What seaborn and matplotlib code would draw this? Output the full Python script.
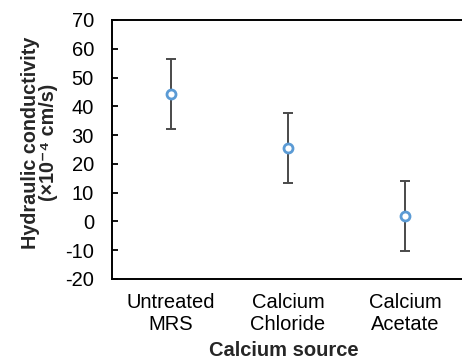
import matplotlib
matplotlib.use("Agg")
import matplotlib.pyplot as plt
import seaborn as sns
import pandas as pd
import numpy as np

categories = ["Untreated\nMRS", "Calcium\nChloride", "Calcium\nAcetate"]
means = [44.3, 25.4, 2.0]
errors = [12.1, 12.2, 12.2]
yticks = [-20, -10, 0, 10, 20, 30, 40, 50, 60, 70]

sns.set_theme(style="white")
plt.rcParams["font.family"] = ["Liberation Sans", "DejaVu Sans"]

df = pd.DataFrame({"pos": np.arange(len(categories)), "mean": means, "err": errors})

fig = plt.figure(figsize=(4.62, 3.61), dpi=100)
ax = fig.add_axes([112 / 462, 1 - 279 / 361, 352 / 462, 259 / 361])

ax.errorbar(df["pos"], df["mean"], yerr=df["err"], fmt="none",
            ecolor="#4a4a4a", elinewidth=1.4, capsize=3.4, capthick=1.4, zorder=2)
sns.scatterplot(data=df, x="pos", y="mean", ax=ax, marker="o", s=42,
                facecolor="white", edgecolor="#5B9BD5", linewidth=2.0, zorder=3)

ax.set_xlim(-0.5, 2.5)
ax.set_ylim(-20, 70)
ax.set_yticks(yticks)
ax.set_yticklabels([str(v) for v in yticks], fontsize=14.5, color="black")
ax.set_xticks(range(len(categories)))
ax.set_xticklabels(categories, fontsize=14.5, color="black", linespacing=1.2)
ax.tick_params(axis="x", which="major", length=0, pad=10)
ax.set_xticks([0.5, 1.5], minor=True)
ax.tick_params(axis="x", which="minor", direction="in", length=4.5, width=1.3, color="black")
ax.tick_params(axis="y", direction="in", length=4.5, width=1.3, color="black", pad=13, left=True)

for side in ["left", "bottom", "top"]:
    ax.spines[side].set_visible(True)
    ax.spines[side].set_color("black")
    ax.spines[side].set_linewidth(1.4)
ax.spines["right"].set_visible(False)

ax.set_xlabel("Calcium source", fontsize=14.5, fontweight="bold")
ax.xaxis.set_label_coords(0.489, -0.238)
ax.set_ylabel("Hydraulic conductivity\n(×10⁻⁴ cm/s)", fontsize=14.2,
              fontweight="bold", linespacing=0.95)
ax.yaxis.set_label_coords(-0.153, 0.527)

fig.savefig("out.png", dpi=100)
